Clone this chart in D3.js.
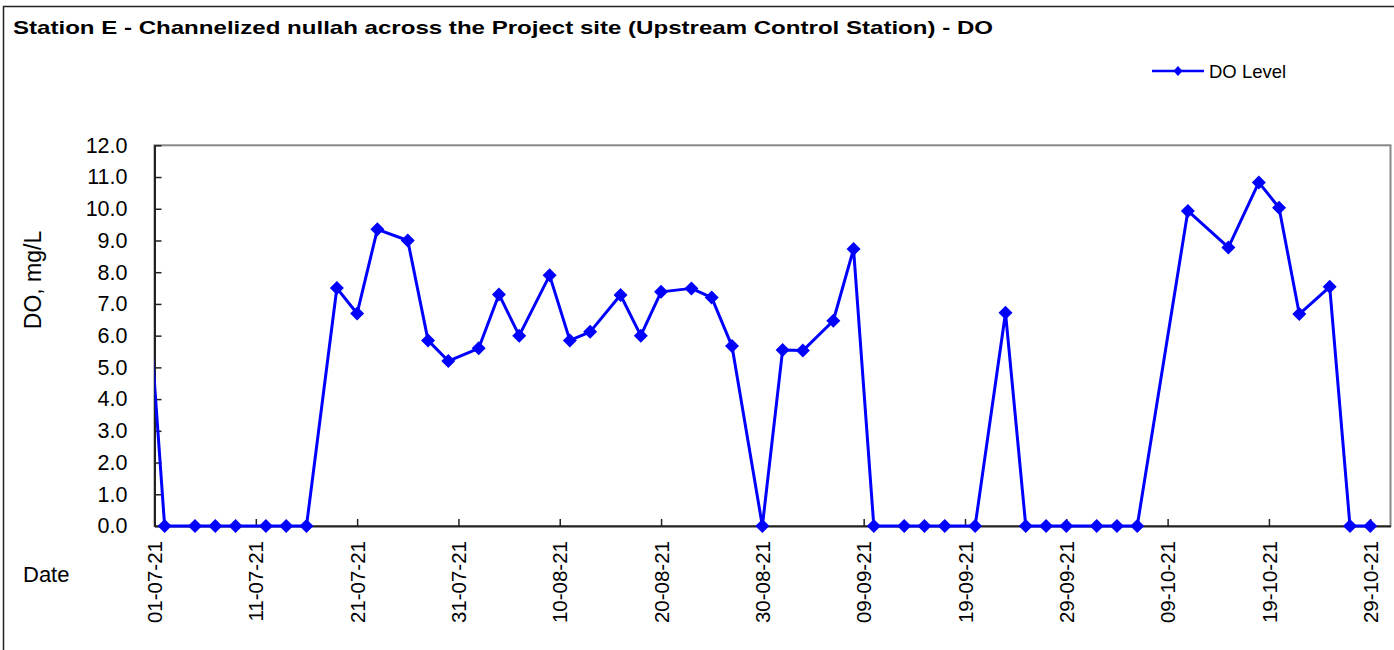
<!DOCTYPE html>
<html lang="en">
  <head>
    <meta charset="UTF-8" />
    <script src="https://d3js.org/d3.v7.min.js"></script>
    <title>Station E - DO</title>
    <style>
      body {
        margin: 0;
        background: #fff;
      }
      svg text {
        font-family: 'Liberation Sans', Arial, sans-serif;
        fill: #000;
      }
      .axis .domain {
        stroke: #222;
        stroke-width: 2;
      }
      .axis line {
        stroke: #222;
        stroke-width: 1.5;
      }
    </style>
  </head>
  <body>
    <script>
      // sample dates (dd-mm-yy) and DO readings, mg/L
      var dates = [
        '30-06-21', '02-07-21', '05-07-21', '07-07-21', '09-07-21', '12-07-21',
        '14-07-21', '16-07-21', '19-07-21', '21-07-21', '23-07-21', '26-07-21',
        '28-07-21', '30-07-21', '02-08-21', '04-08-21', '06-08-21', '09-08-21',
        '11-08-21', '13-08-21', '16-08-21', '18-08-21', '20-08-21', '23-08-21',
        '25-08-21', '27-08-21', '30-08-21', '01-09-21', '03-09-21', '06-09-21',
        '08-09-21', '10-09-21', '13-09-21', '15-09-21', '17-09-21', '20-09-21',
        '23-09-21', '25-09-21', '27-09-21', '29-09-21', '02-10-21', '04-10-21',
        '06-10-21', '11-10-21', '15-10-21', '18-10-21', '20-10-21', '22-10-21',
        '25-10-21', '27-10-21', '29-10-21'
      ]
      var doLevel = [
        9.0, 0, 0, 0, 0, 0,
        0, 0, 7.5, 6.7, 9.35, 9.0,
        5.85, 5.2, 5.6, 7.3, 6.0, 7.9,
        5.85, 6.12, 7.28, 6.0, 7.38, 7.49,
        7.2, 5.67, 0, 5.55, 5.53, 6.47,
        8.73, 0, 0, 0, 0, 0,
        6.72, 0, 0, 0, 0, 0,
        0, 9.93, 8.78, 10.83, 10.03, 6.68,
        7.54, 0, 0
      ]
      var xTickLabels = [
        '01-07-21', '11-07-21', '21-07-21', '31-07-21', '10-08-21', '20-08-21',
        '30-08-21', '09-09-21', '19-09-21', '29-09-21', '09-10-21', '19-10-21',
        '29-10-21'
      ]
      var xDomain = ['01-07-21', '31-10-21']
      var yTicks = [0, 1, 2, 3, 4, 5, 6, 7, 8, 9, 10, 11, 12]

      var width = 1394
      var height = 650
      var plotLeft = 154.5
      var plotRight = 1390.5
      var plotTop = 145.3
      var plotBottom = 526

      var parse = d3.utcParse('%d-%m-%y')
      var data = dates.map(function (d, i) {
        return { date: parse(d), value: doLevel[i] }
      })

      var svg = d3
        .select('body')
        .append('svg')
        .attr('width', width)
        .attr('height', height)

      // outer chart border
      svg
        .append('rect')
        .attr('x', 3.5)
        .attr('y', 6.5)
        .attr('width', 1420)
        .attr('height', 700)
        .attr('fill', 'none')
        .attr('stroke', '#222')
        .attr('stroke-width', 1.5)

      svg
        .append('text')
        .attr('x', 13)
        .attr('y', 34)
        .attr('font-size', 18.5)
        .attr('font-weight', 'bold')
        .attr('textLength', 980)
        .attr('lengthAdjust', 'spacingAndGlyphs')
        .text(
          'Station E - Channelized nullah across the Project site (Upstream Control Station) - DO'
        )

      var x = d3.scaleUtc().domain(xDomain.map(parse)).range([plotLeft, plotRight])
      var y = d3.scaleLinear().domain([0, 12]).range([plotBottom, plotTop])

      // plot area frame
      svg
        .append('rect')
        .attr('x', plotLeft)
        .attr('y', plotTop)
        .attr('width', plotRight - plotLeft)
        .attr('height', plotBottom - plotTop)
        .attr('fill', 'none')
        .attr('stroke', '#888')
        .attr('stroke-width', 2)

      var yAxis = d3
        .axisLeft(y)
        .tickValues(yTicks)
        .tickFormat(d3.format('.1f'))
        .tickSizeInner(-7)
        .tickSizeOuter(0)
        .tickPadding(27)

      svg
        .append('g')
        .attr('class', 'axis')
        .attr('transform', 'translate(' + plotLeft + ',0)')
        .call(yAxis)
        .selectAll('text')
        .attr('font-size', 21.5)

      var xAxis = d3
        .axisBottom(x)
        .tickValues(xTickLabels.map(parse))
        .tickFormat(d3.utcFormat('%d-%m-%y'))
        .tickSizeInner(-7)
        .tickSizeOuter(0)

      svg
        .append('g')
        .attr('class', 'axis')
        .attr('transform', 'translate(0,' + plotBottom + ')')
        .call(xAxis)
        .selectAll('text')
        .attr('font-size', 20.5)
        .attr('transform', 'rotate(-90)')
        .attr('text-anchor', 'end')
        .attr('x', -15)
        .attr('y', 0)
        .attr('dy', '0.35em')

      svg
        .append('text')
        .attr('transform', 'translate(41,280) rotate(-90)')
        .attr('text-anchor', 'middle')
        .attr('font-size', 23)
        .text('DO, mg/L')

      svg
        .append('text')
        .attr('x', 23)
        .attr('y', 582)
        .attr('font-size', 22)
        .text('Date')

      // series, clipped to the plot area
      svg
        .append('clipPath')
        .attr('id', 'plot-clip')
        .append('rect')
        .attr('x', plotLeft)
        .attr('y', plotTop - 10)
        .attr('width', plotRight - plotLeft)
        .attr('height', plotBottom - plotTop + 20)

      var plot = svg.append('g').attr('clip-path', 'url(#plot-clip)')

      var line = d3
        .line()
        .x(function (d) {
          return x(d.date)
        })
        .y(function (d) {
          return y(d.value)
        })

      plot
        .append('path')
        .datum(data)
        .attr('fill', 'none')
        .attr('stroke', '#0000ff')
        .attr('stroke-width', 3)
        .attr('stroke-linejoin', 'round')
        .attr('d', line)

      var diamond = 'M0,-7L7,0L0,7L-7,0Z'

      plot
        .selectAll('.marker')
        .data(data)
        .enter()
        .append('path')
        .attr('class', 'marker')
        .attr('d', diamond)
        .attr('fill', '#0000ff')
        .attr('transform', function (d) {
          return 'translate(' + x(d.date) + ',' + y(d.value) + ')'
        })

      // legend
      var legend = svg.append('g').attr('transform', 'translate(1152,71)')
      legend
        .append('line')
        .attr('x1', 0)
        .attr('x2', 52)
        .attr('stroke', '#0000ff')
        .attr('stroke-width', 2.5)
      legend
        .append('path')
        .attr('d', 'M0,-5L4.5,0L0,5L-4.5,0Z')
        .attr('transform', 'translate(26,0)')
        .attr('fill', '#0000ff')
      legend
        .append('text')
        .attr('x', 57)
        .attr('y', 6.5)
        .attr('font-size', 18.5)
        .text('DO Level')
    </script>
  </body>
</html>
